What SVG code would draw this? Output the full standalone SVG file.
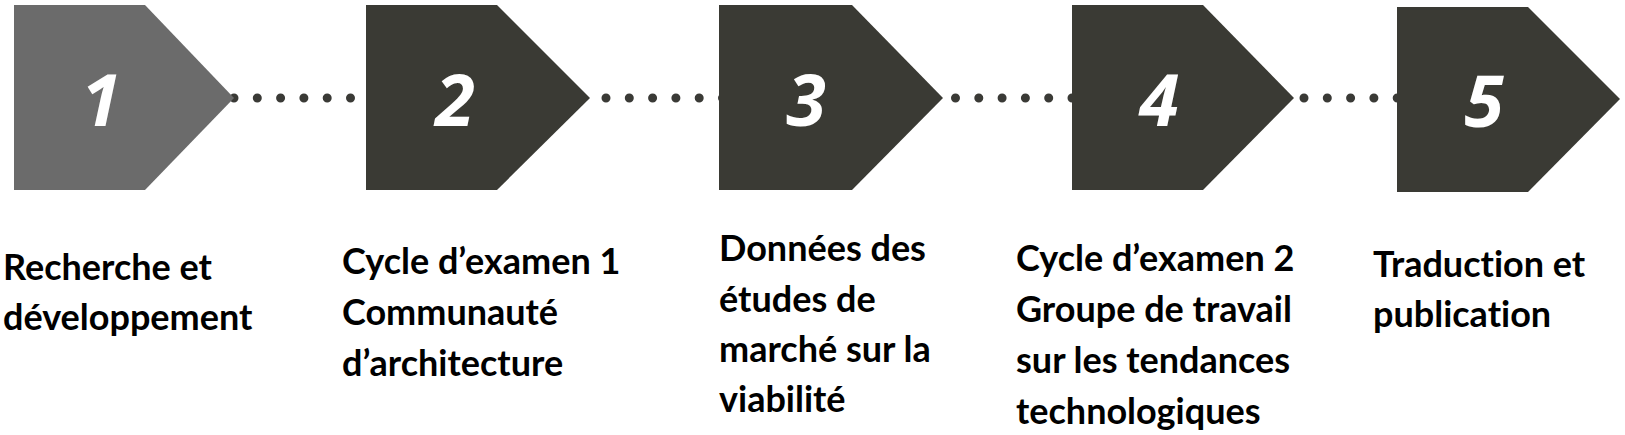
<svg xmlns="http://www.w3.org/2000/svg" width="1625" height="435" viewBox="0 0 1625 435">
<style>
.shape{fill:#3a3a34}
.light{fill:#6b6b6b}
.num{font-family:"Open Sans","Noto Sans",sans-serif;font-weight:700;font-style:italic;font-size:72px;fill:#ffffff;text-anchor:middle}
.lbl{font-family:Lato,"Open Sans",sans-serif;font-weight:700;font-size:36px;fill:#000000;font-variant-ligatures:none;font-feature-settings:"liga" 0}
.dots{stroke:#3a3a36;stroke-width:9;stroke-linecap:round;stroke-dasharray:0 23.3;fill:none}
</style>
<rect width="1625" height="435" fill="#ffffff"/>
<g id="connectors">
<line class="dots" x1="234" y1="98" x2="352" y2="98"/>
<line class="dots" x1="606" y1="98" x2="724" y2="98"/>
<line class="dots" x1="955.5" y1="98" x2="1073" y2="98"/>
<line class="dots" x1="1304" y1="98" x2="1398" y2="98"/>
</g>
<g id="step1">
<polygon class="light" points="14,5 145,5 234,98 145,190 14,190"/>
<text class="num" x="101" y="126">1</text>
<text class="lbl" x="3" y="280">Recherche et</text>
<text class="lbl" x="3" y="330">développement</text>
</g>
<g id="step2">
<polygon class="shape" points="366,5 497,5 590,98 497,190 366,190"/>
<text class="num" x="455" y="126">2</text>
<text class="lbl" x="342" y="274">Cycle d’examen 1</text>
<text class="lbl" x="342" y="325">Communauté</text>
<text class="lbl" x="342" y="376">d’architecture</text>
</g>
<g id="step3">
<polygon class="shape" points="719,5 852,5 943,98 852,190 719,190"/>
<text class="num" x="806" y="126">3</text>
<text class="lbl" x="719" y="261">Données des</text>
<text class="lbl" x="719" y="312">études de</text>
<text class="lbl" x="719" y="362">marché sur la</text>
<text class="lbl" x="719" y="412">viabilité</text>
</g>
<g id="step4">
<polygon class="shape" points="1072,5 1203,5 1294,98 1203,190 1072,190"/>
<text class="num" x="1159" y="126">4</text>
<text class="lbl" x="1016" y="271">Cycle d’examen 2</text>
<text class="lbl" x="1016" y="322">Groupe de travail</text>
<text class="lbl" x="1016" y="373">sur les tendances</text>
<text class="lbl" x="1016" y="424">technologiques</text>
</g>
<g id="step5">
<polygon class="shape" points="1397,7 1528,7 1620,99 1528,192 1397,192"/>
<text class="num" x="1484" y="127">5</text>
<text class="lbl" x="1373" y="277">Traduction et</text>
<text class="lbl" x="1373" y="327">publication</text>
</g>
</svg>
